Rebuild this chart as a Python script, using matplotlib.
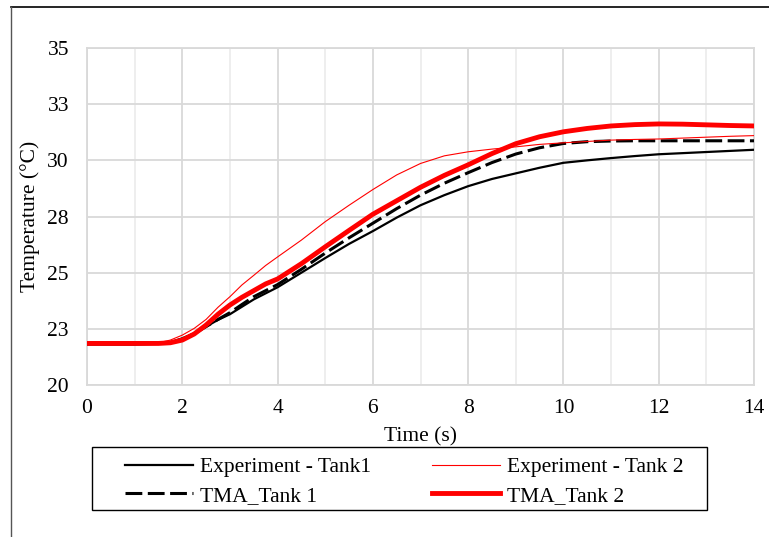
import matplotlib
matplotlib.use('Agg')
from matplotlib import pyplot as plt
from matplotlib.lines import Line2D
from matplotlib.patches import Rectangle
from matplotlib.ticker import FixedLocator, MultipleLocator

plt.rcParams['font.family'] = ['Liberation Serif', 'DejaVu Serif']
plt.rcParams['font.size'] = 15.5

# time points (s)
t = [0, 1, 1.5, 1.75, 2, 2.25, 2.5, 2.75, 3, 3.25, 3.5, 3.75, 4, 4.5, 5, 5.5, 6, 6.5, 7, 7.5,
     8, 8.5, 9, 9.5, 10, 10.5, 11, 11.5, 12, 12.5, 13, 13.5, 14]

exp_tank1 = [21.8, 21.8, 21.83, 21.9, 22.08, 22.3, 22.6, 22.9, 23.15, 23.48, 23.81, 24.08, 24.35,
             25.0, 25.65, 26.28, 26.85, 27.45, 28.0, 28.45, 28.85, 29.17, 29.42, 29.67, 29.89,
             30.0, 30.1, 30.19, 30.27, 30.32, 30.37, 30.42, 30.47]
tma_tank1 = [21.85, 21.85, 21.85, 21.9, 22.02, 22.28, 22.6, 22.92, 23.22, 23.58, 23.93, 24.2, 24.47,
             25.15, 25.87, 26.55, 27.2, 27.85, 28.45, 28.98, 29.45, 29.9, 30.28, 30.56, 30.75,
             30.83, 30.86, 30.87, 30.87, 30.87, 30.87, 30.87, 30.87]
exp_tank2 = [21.85, 21.85, 21.88, 22.0, 22.22, 22.52, 22.92, 23.46, 23.93, 24.45, 24.88, 25.32, 25.7,
             26.45, 27.27, 28.0, 28.7, 29.35, 29.86, 30.2, 30.38, 30.5, 30.6, 30.71, 30.78,
             30.84, 30.9, 30.93, 30.95, 30.99, 31.03, 31.07, 31.1]
tma_tank2 = [21.85, 21.85, 21.85, 21.88, 22.0, 22.27, 22.67, 23.15, 23.56, 23.9, 24.2, 24.5, 24.72,
             25.4, 26.15, 26.88, 27.6, 28.2, 28.8, 29.33, 29.8, 30.3, 30.74, 31.05, 31.27,
             31.42, 31.53, 31.59, 31.62, 31.61, 31.58, 31.55, 31.53]

y_ticks = [20, 22.5, 25, 27.5, 30, 32.5, 35]
y_labels = ['20', '23', '25', '28', '30', '33', '35']
x_ticks = [0, 2, 4, 6, 8, 10, 12, 14]

W, H = 769, 537
fig = plt.figure(figsize=(W / 100, H / 100), dpi=100)
ax = fig.add_axes([87 / W, 1 - 385 / H, (754 - 87) / W, (385 - 48) / H])

ax.plot(t, exp_tank1, color='black', lw=1.6, label='Experiment - Tank1', zorder=3)
ax.plot(t, tma_tank1, color='black', lw=2.2, linestyle=(0, (5.5, 1.8)), label='TMA_Tank 1', zorder=3)
ax.plot(t, exp_tank2, color='red', lw=0.8, label='Experiment - Tank 2', zorder=4)
ax.plot(t, tma_tank2, color='red', lw=3.5, label='TMA_Tank 2', zorder=3)

ax.set_xlim(0, 14)
ax.set_ylim(20, 35)
ax.xaxis.set_major_locator(FixedLocator(x_ticks))
ax.xaxis.set_minor_locator(MultipleLocator(1))
ax.yaxis.set_major_locator(FixedLocator(y_ticks))
ax.set_yticklabels(y_labels)
ax.tick_params(which='both', length=0, labelsize=15.5)
ax.tick_params(axis='y', pad=13)
ax.tick_params(axis='x', pad=10)
ax.grid(which='major', color='#d9d9d9', lw=1.3)
ax.grid(which='minor', axis='x', color='#ededed', lw=1.3)
for s in ax.spines.values():
    s.set_color('#d9d9d9')
    s.set_linewidth(1.3)

ax.set_xlabel('Time (s)', fontsize=15.5, labelpad=7)
ax.set_ylabel('Temperature (°C)', fontsize=15.5, labelpad=5)

# legend below the plot, two columns, with its own box
fig.add_artist(Rectangle((92 / W, 1 - 510 / H), (707 - 92) / W, 63 / H,
                         transform=fig.transFigure, fill=False, edgecolor='black', lw=1.0))
h, l = ax.get_legend_handles_labels()
leg = fig.legend(h, l, loc='upper left', ncol=2, bbox_to_anchor=(125 / W, 1 - 457 / H),
                 frameon=False, fontsize=15.5, handlelength=3.16, handletextpad=0.33,
                 labelspacing=0.4, borderpad=0, borderaxespad=0, columnspacing=2.84)

# outer frame of the chart (only top and left are visible)
fig.add_artist(Line2D([11 / W, 1], [1 - 7 / H, 1 - 7 / H], color='black', lw=1.2))
fig.add_artist(Line2D([11 / W, 11 / W], [0, 1 - 7 / H], color='#555555', lw=1.0))

fig.savefig('out.png', dpi=100)
